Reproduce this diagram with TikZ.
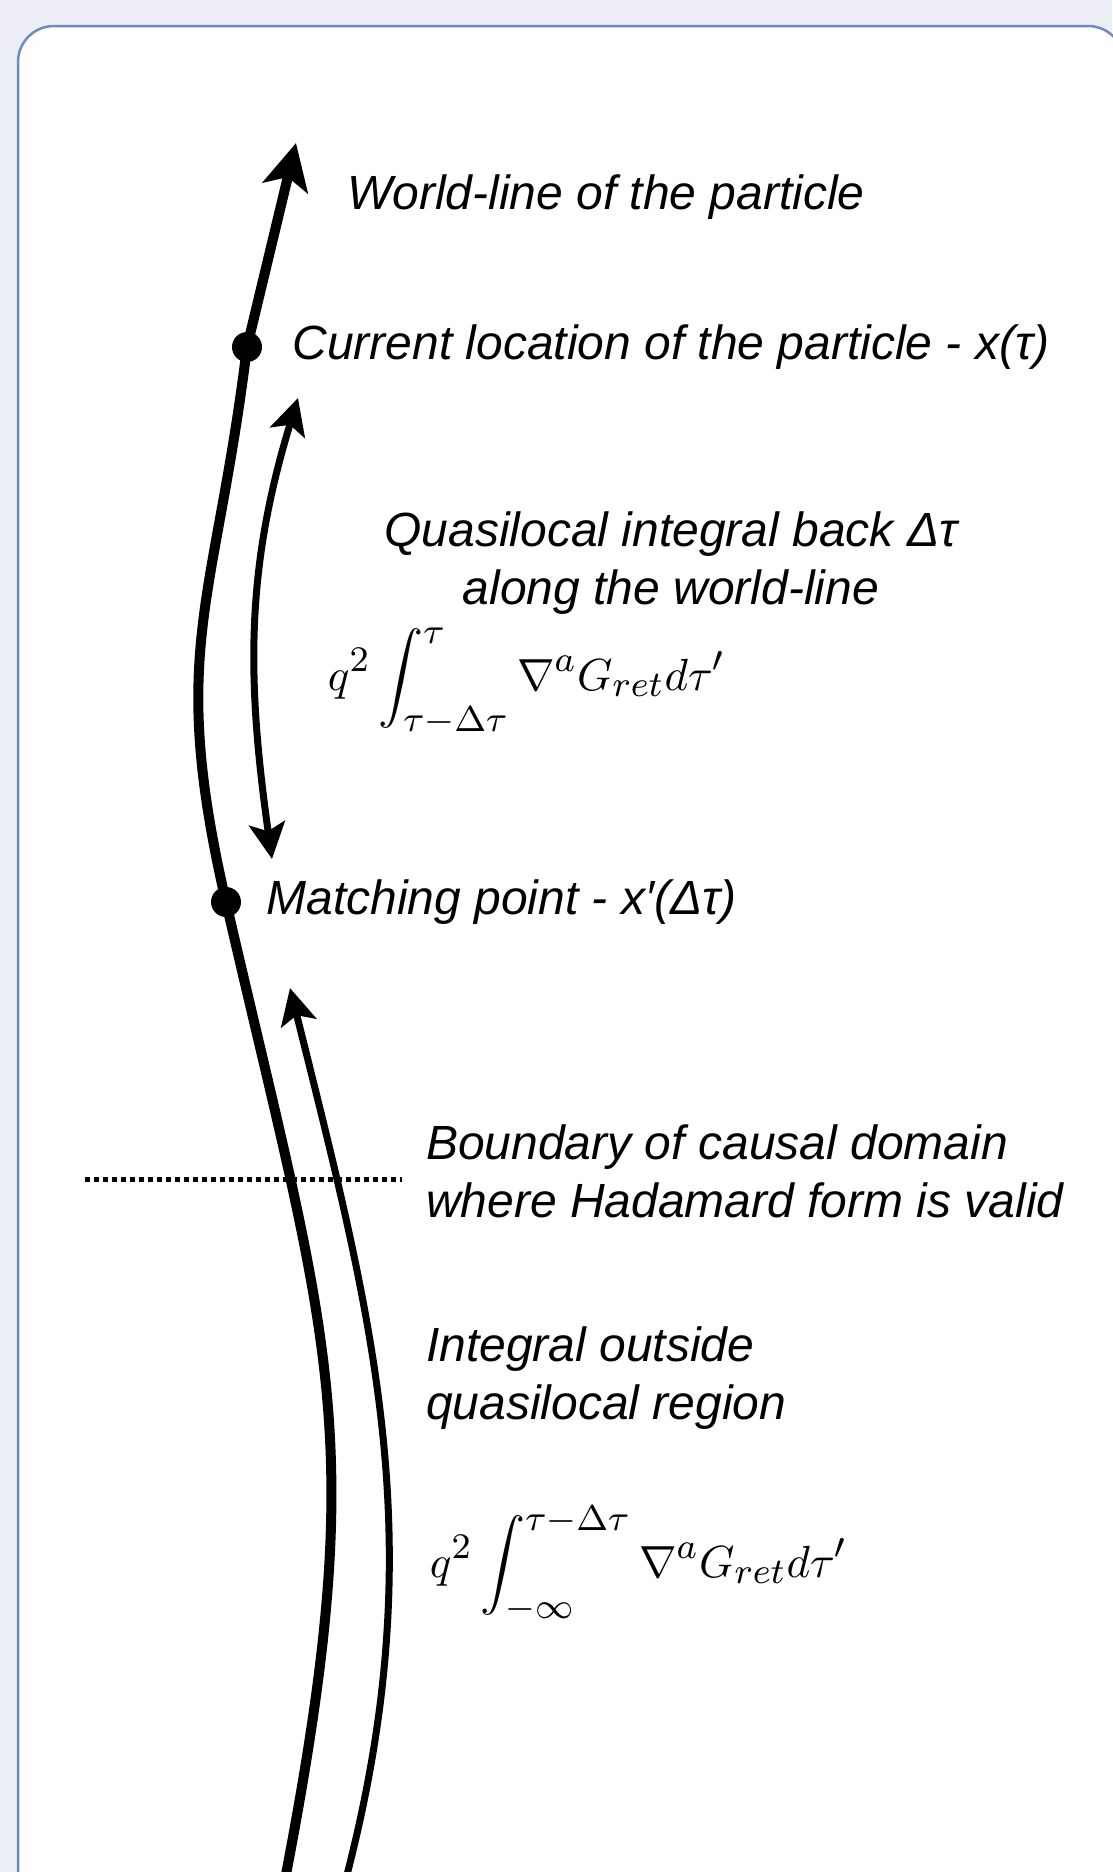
\documentclass[tikz,border=0pt]{standalone}
\usepackage{amsmath}
\usepackage{fontspec}
\usepackage{xcolor}
\usepackage{tikz}
\usetikzlibrary{arrows.meta,positioning}
\newfontfamily\labelfont{Liberation Sans}
\definecolor{PanelBlue}{HTML}{6C8EBF}
\definecolor{PageLilac}{HTML}{EEEEF8}
\newcommand{\Gret}{G_{ret}}
\newcommand{\dtau}{\Delta\tau}
\DeclareMathSizes{10}{10}{8}{6}

\begin{document}
\begin{tikzpicture}[
  x=1pt,y=1pt,
  node distance=28pt,
  lbl/.style={font=\labelfont\itshape\fontsize{48}{58}\selectfont,inner sep=0pt},
  formula/.style={font=\fontsize{10}{12}\selectfont,inner sep=0pt,scale=4.5,transform shape},
  evdot/.style={circle,fill=black,inner sep=0pt,minimum size=30pt},
  wline/.style={line width=10pt,-{Stealth[length=46pt,width=46pt,inset=11pt]}},
  qarrow/.style={line width=7pt,-{Stealth[length=36pt,width=36pt,inset=8pt]}},
  qboth/.style={line width=7pt,{Stealth[length=36pt,width=36pt,inset=8pt]}-{Stealth[length=36pt,width=36pt,inset=8pt]}},
  bound/.style={line width=5pt,dash pattern=on 4.5pt off 4.5pt}
]
\useasboundingbox[fill=PageLilac] (0,0) rectangle (1112,-1872);
\draw[PanelBlue,line width=2.5pt,fill=white,rounded corners=36pt] (18,-26) rectangle (1124,-1920);

\coordinate (wlbot) at (283,-1890);
\coordinate (wltip) at (296,-143);
\node[evdot] (cur) at (247,-347) {};
\node[evdot] (match) at (226,-902) {};
\draw[wline] (wlbot) to[out=79,in=-77,looseness=1.2] (match.center) to[out=103,in=-97,looseness=1.2] (cur.center) -- (wltip);

\coordinate (outbot) at (343,-1890);
\coordinate (outtip) at (290,-988);
\draw[qarrow] (outbot) to[out=75,in=-76] (outtip);

\coordinate (qtop) at (298,-398);
\coordinate (qbot) at (272,-859);
\draw[qboth] (qtop) to[out=-107,in=98] (qbot);

\coordinate (bndl) at (85,-1179);
\coordinate (bndr) at (402,-1179);
\draw[bound] (bndl) -- (bndr);

\node[lbl,anchor=base west] (wlname) at (347,-209) {World-line of the particle};
\node[lbl,right=30pt of cur] (curname) {Current location of the particle - x(τ)};
\node[lbl,right=25pt of match] (matchname) {Matching point - x′(Δτ)};
\node[lbl,align=center,anchor=base] (qlname) at (671,-604) {Quasilocal integral back Δτ\\along the world-line};
\node[formula,anchor=base west] (qlint) at (327,-690) {$\displaystyle q^2\int_{\tau-\dtau}^{\tau}\nabla^a\Gret d\tau'$};
\node[lbl,align=left,anchor=base west] (bndname) at (426,-1217) {Boundary of causal domain\\where Hadamard form is valid};
\node[lbl,align=left,anchor=base west] (outname) at (426,-1419) {Integral outside\\quasilocal region};
\node[formula,anchor=base west] (outint) at (429,-1577) {$\displaystyle q^2\int_{-\infty}^{\tau-\dtau}\nabla^a\Gret d\tau'$};
\end{tikzpicture}
\end{document}
